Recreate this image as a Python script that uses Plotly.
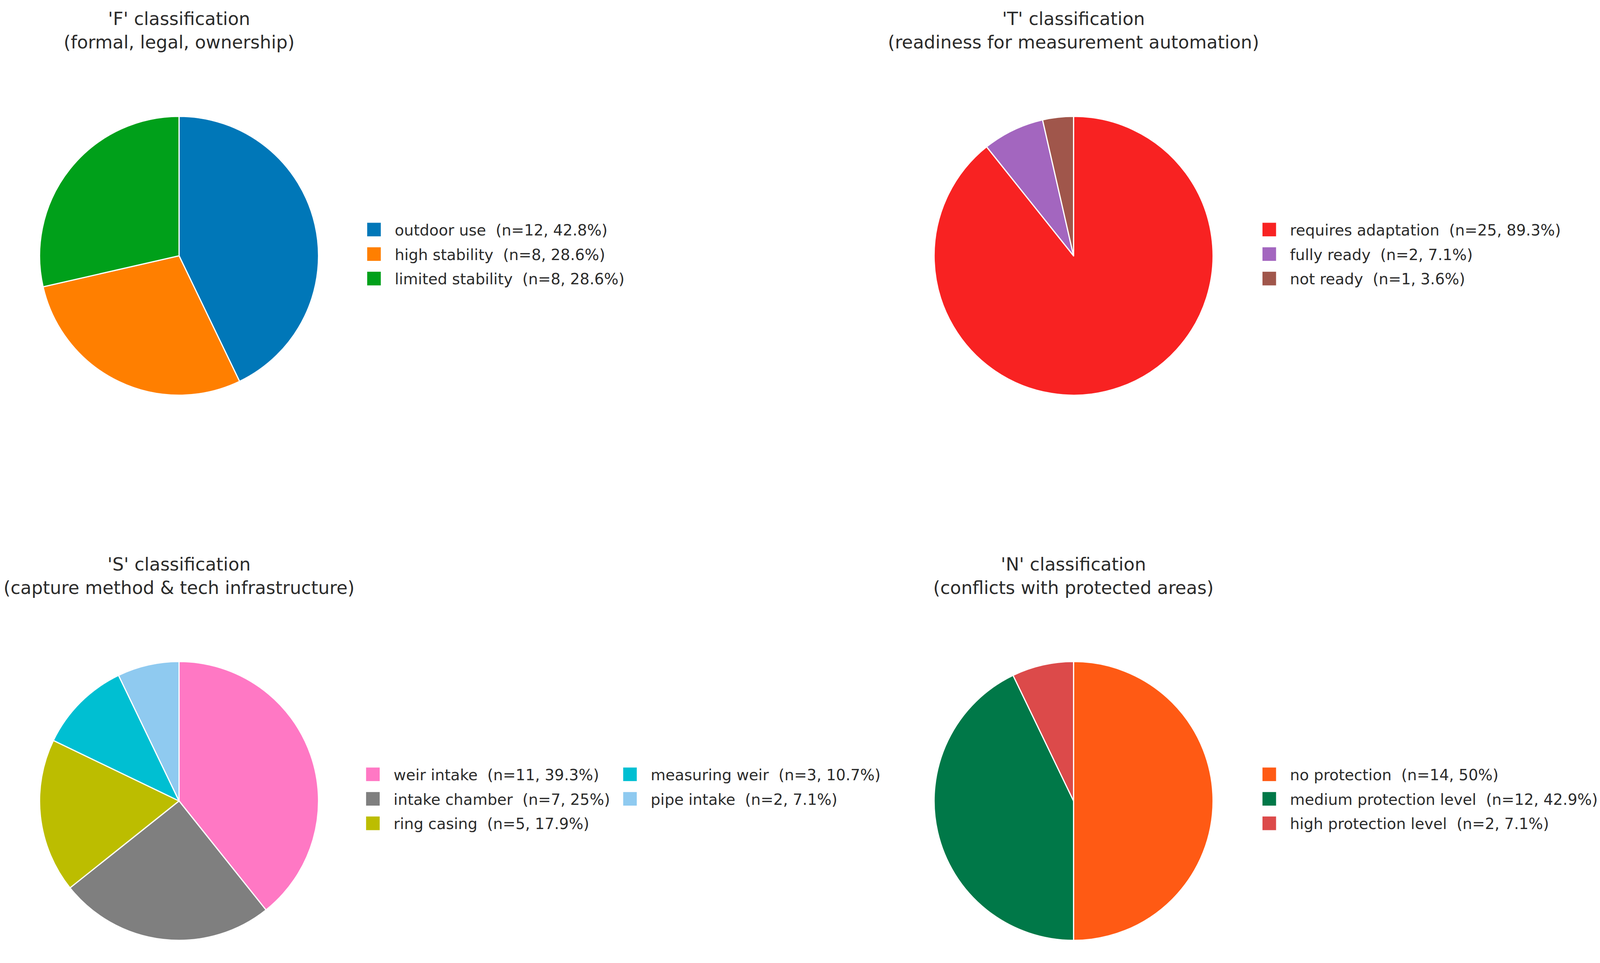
import plotly.graph_objects as go

W, H = 4325, 2466          # reference frame, used only to turn pixel spots into fractions
FONT = "DejaVu Sans"
TXT = "#2b2b2b"
CLEAR = "rgba(0,0,0,0)"

# ---- data ----
F_labels = ["outdoor use", "high stability", "limited stability"]
F_n = [12, 8, 8]
F_pct = ["42.8", "28.6", "28.6"]
F_colors = ["#0077b8", "#ff7f00", "#00a01a"]

T_labels = ["requires adaptation", "fully ready", "not ready"]
T_n = [25, 2, 1]
T_pct = ["89.3", "7.1", "3.6"]
T_colors = ["#f82222", "#a366bf", "#a0564b"]

S_labels = ["weir intake", "intake chamber", "ring casing", "measuring weir", "pipe intake"]
S_n = [11, 7, 5, 3, 2]
S_pct = ["39.3", "25", "17.9", "10.7", "7.1"]
S_colors = ["#ff78c4", "#7f7f7f", "#bcbd00", "#00bfd2", "#8fcaf0"]

N_labels = ["no protection", "medium protection level", "high protection level"]
N_n = [14, 12, 2]
N_pct = ["50", "42.9", "7.1"]
N_colors = ["#ff5a14", "#007848", "#dc4a4a"]

TITLES = [
    "'F' classification<br>(formal, legal, ownership)",
    "'T' classification<br>(readiness for measurement automation)",
    "'S' classification<br>(capture method & tech infrastructure)",
    "'N' classification<br>(conflicts with protected areas)",
]

# ---- 2x2 grid spots ----
R = 377
CX = [484, 2902]
CY = [655, 2051]


def dom(cx, cy):
    return dict(x=[(cx - R) / W, (cx + R) / W], y=[1 - (cy + R) / H, 1 - (cy - R) / H])


def lab(labels, n, pct):
    return [f"{l}  (n={k}, {p}%)" for l, k, p in zip(labels, n, pct)]


def pie(labels, values, colors, d, legend, lines=None, rotation=0):
    return go.Pie(labels=labels, values=values, sort=False, direction="clockwise", rotation=rotation,
                  marker=dict(colors=colors, line=dict(color=lines or "white", width=3)),
                  textinfo="none", hoverinfo="label+value", domain=d, legend=legend)


fig = go.Figure()
fig.add_trace(pie(lab(F_labels, F_n, F_pct), F_n, F_colors, dom(CX[0], CY[0]), "legend"))
fig.add_trace(pie(lab(T_labels, T_n, T_pct), T_n, T_colors, dom(CX[1], CY[0]), "legend2"))

# 'S' legend is in two columns -> split the pie in two overlaid traces, each padded
# with a transparent filler slice for the other group
a, b = slice(0, 3), slice(3, 5)
fig.add_trace(pie(lab(S_labels[a], S_n[a], S_pct[a]) + [" "], S_n[a] + [sum(S_n[b])],
                  S_colors[a] + [CLEAR], dom(CX[0], CY[1]), "legend3",
                  lines=["white"] * 3 + [CLEAR]))
fig.add_trace(pie(lab(S_labels[b], S_n[b], S_pct[b]) + [" "], S_n[b] + [sum(S_n[a])],
                  S_colors[b] + [CLEAR], dom(CX[0], CY[1]), "legend4",
                  lines=["white"] * 2 + [CLEAR], rotation=360 * sum(S_n[a]) / sum(S_n)))

fig.add_trace(pie(lab(N_labels, N_n, N_pct), N_n, N_colors, dom(CX[1], CY[1]), "legend5"))


def leg(x_px, top_px):
    return dict(x=x_px / W, y=1 - top_px / H, xanchor="left", yanchor="top", itemwidth=96,
                bgcolor=CLEAR, font=dict(family=FONT, size=39, color=TXT))


title_y = [1 - 78 / H, 1 - 1475 / H]
for i, t in enumerate(TITLES):
    fig.add_annotation(text=t, x=CX[i % 2] / W, y=title_y[i // 2], xref="paper", yref="paper",
                       xanchor="center", yanchor="middle", showarrow=False,
                       font=dict(family=FONT, size=46, color=TXT))

fig.update_layout(
    autosize=True, margin=dict(l=0, r=0, t=0, b=0, autoexpand=False),
    paper_bgcolor="white", plot_bgcolor="white", font=dict(family=FONT, color=TXT),
    legend=leg(955, 565), legend2=leg(3375, 565),
    legend3=leg(952, 1960), legend4=leg(1647, 1960), legend5=leg(3375, 1960),
)

# page without margins; legend swatches enlarged (plotly draws them 12px wide)
# and legend rows spread a little (matplotlib-like spacing)
PS = """
document.body.style.margin = '0';
document.documentElement.style.overflow = 'hidden';
document.querySelectorAll('path.legendpie').forEach(function(p){
  p.setAttribute('transform', (p.getAttribute('transform') || '') + ' scale(3)');
  p.style.strokeWidth = '0.4px';
});
document.querySelectorAll('g.infolayer > g').forEach(function(lg){
  if (!/^legend\\d*$/.test(lg.getAttribute('class') || '')) return;
  lg.querySelectorAll('[clip-path]').forEach(function(e){ e.removeAttribute('clip-path'); });
  lg.querySelectorAll('g.traces').forEach(function(g, i){
    var m = /translate\\(([-\\d.e]+)[ ,]+([-\\d.e]+)\\)/.exec(g.getAttribute('transform') || '');
    if (m) g.setAttribute('transform',
      'translate(' + m[1] + ',' + (parseFloat(m[2]) + (i - 1) * 9) + ')');
  });
});
"""

fig.write_html("out.html", config={"displayModeBar": False}, post_script=PS,
               default_width="100vw", default_height="100vh")
